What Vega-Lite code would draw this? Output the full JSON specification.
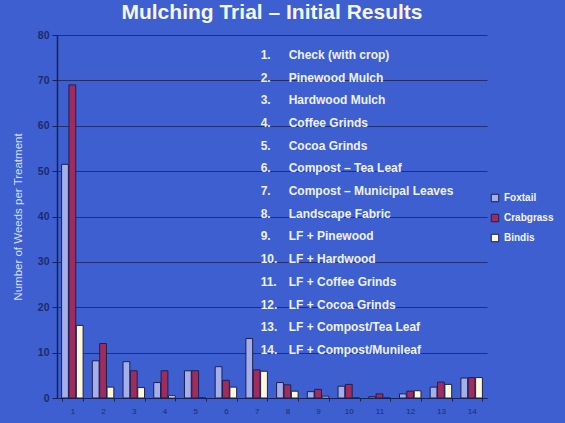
{
  "$schema": "https://vega.github.io/schema/vega-lite/v6.json",
  "autosize": "none",
  "width": 430,
  "height": 363,
  "padding": {"left": 57, "top": 35, "right": 78, "bottom": 25},
  "background": "#3d5fcf",
  "title": {
    "text": "Mulching Trial – Initial Results",
    "color": "#f4f6ff",
    "font": "Liberation Sans",
    "fontWeight": "bold",
    "fontSize": 21,
    "anchor": "middle",
    "offset": 7
  },
  "config": {
    "view": {"stroke": null},
    "font": "Liberation Sans"
  },
  "datasets": {
    "weeds": [
      {"treatment": "1", "weed": "Foxtail", "count": 51.5},
      {"treatment": "1", "weed": "Crabgrass", "count": 69},
      {"treatment": "1", "weed": "Bindis", "count": 16},
      {"treatment": "2", "weed": "Foxtail", "count": 8.2},
      {"treatment": "2", "weed": "Crabgrass", "count": 12},
      {"treatment": "2", "weed": "Bindis", "count": 2.4},
      {"treatment": "3", "weed": "Foxtail", "count": 8},
      {"treatment": "3", "weed": "Crabgrass", "count": 6},
      {"treatment": "3", "weed": "Bindis", "count": 2.3},
      {"treatment": "4", "weed": "Foxtail", "count": 3.4},
      {"treatment": "4", "weed": "Crabgrass", "count": 6},
      {"treatment": "4", "weed": "Bindis", "count": 0.5},
      {"treatment": "5", "weed": "Foxtail", "count": 6},
      {"treatment": "5", "weed": "Crabgrass", "count": 6},
      {"treatment": "5", "weed": "Bindis", "count": 0},
      {"treatment": "6", "weed": "Foxtail", "count": 6.9},
      {"treatment": "6", "weed": "Crabgrass", "count": 3.9},
      {"treatment": "6", "weed": "Bindis", "count": 2.4},
      {"treatment": "7", "weed": "Foxtail", "count": 13.1},
      {"treatment": "7", "weed": "Crabgrass", "count": 6.2},
      {"treatment": "7", "weed": "Bindis", "count": 5.9},
      {"treatment": "8", "weed": "Foxtail", "count": 3.4},
      {"treatment": "8", "weed": "Crabgrass", "count": 2.9},
      {"treatment": "8", "weed": "Bindis", "count": 1.5},
      {"treatment": "9", "weed": "Foxtail", "count": 1.4},
      {"treatment": "9", "weed": "Crabgrass", "count": 1.9},
      {"treatment": "9", "weed": "Bindis", "count": 0.4},
      {"treatment": "10", "weed": "Foxtail", "count": 2.6},
      {"treatment": "10", "weed": "Crabgrass", "count": 3},
      {"treatment": "10", "weed": "Bindis", "count": 0},
      {"treatment": "11", "weed": "Foxtail", "count": 0.3},
      {"treatment": "11", "weed": "Crabgrass", "count": 0.9},
      {"treatment": "11", "weed": "Bindis", "count": 0},
      {"treatment": "12", "weed": "Foxtail", "count": 0.9},
      {"treatment": "12", "weed": "Crabgrass", "count": 1.5},
      {"treatment": "12", "weed": "Bindis", "count": 1.6},
      {"treatment": "13", "weed": "Foxtail", "count": 2.4},
      {"treatment": "13", "weed": "Crabgrass", "count": 3.5},
      {"treatment": "13", "weed": "Bindis", "count": 3},
      {"treatment": "14", "weed": "Foxtail", "count": 4.4},
      {"treatment": "14", "weed": "Crabgrass", "count": 4.5},
      {"treatment": "14", "weed": "Bindis", "count": 4.5}
    ],
    "key": [
      {"num": "1.", "name": "Check (with crop)"},
      {"num": "2.", "name": "Pinewood Mulch"},
      {"num": "3.", "name": "Hardwood Mulch"},
      {"num": "4.", "name": "Coffee Grinds"},
      {"num": "5.", "name": "Cocoa Grinds"},
      {"num": "6.", "name": "Compost – Tea Leaf"},
      {"num": "7.", "name": "Compost – Municipal Leaves"},
      {"num": "8.", "name": "Landscape Fabric"},
      {"num": "9.", "name": "LF + Pinewood"},
      {"num": "10.", "name": "LF + Hardwood"},
      {"num": "11.", "name": "LF + Coffee Grinds"},
      {"num": "12.", "name": "LF + Cocoa Grinds"},
      {"num": "13.", "name": "LF + Compost/Tea Leaf"},
      {"num": "14.", "name": "LF + Compost/Munileaf"}
    ]
  },
  "layer": [
    {
      "data": {"name": "weeds"},
      "mark": {"type": "bar", "stroke": "#1b2150", "strokeWidth": 1},
      "encoding": {
        "x": {
          "field": "treatment",
          "type": "ordinal",
          "sort": ["1","2","3","4","5","6","7","8","9","10","11","12","13","14"],
          "scale": {"paddingInner": 0.3, "paddingOuter": 0.15},
          "axis": {
            "title": null,
            "labelAngle": 0,
            "labelColor": "#1d2a6e",
            "labelFontSize": 8,
            "labelPadding": 6,
            "domainColor": "#1b2150",
            "tickColor": "#1b2150",
            "tickBand": "extent",
            "tickSize": 3,
            "grid": false
          }
        },
        "xOffset": {
          "field": "weed",
          "type": "nominal",
          "sort": ["Foxtail", "Crabgrass", "Bindis"],
          "scale": {"paddingInner": 0.08}
        },
        "y": {
          "field": "count",
          "type": "quantitative",
          "scale": {"domain": [0, 80]},
          "axis": {
            "title": "Number of Weeds per Treatment",
            "titleColor": "#d6defc",
            "titleFontSize": 11.5,
            "titleFontWeight": "normal",
            "titlePadding": 14,
            "values": [0,10,20,30,40,50,60,70,80],
            "labelColor": "#1d2a6e",
            "labelFontSize": 10.5,
            "labelFontWeight": "bold",
            "labelPadding": 3,
            "domainColor": "#1b2150",
            "domainWidth": 1.5,
            "tickColor": "#1b2150",
            "tickSize": 5,
            "gridColor": "#1e2a66",
            "gridOpacity": 0.9,
            "gridWidth": 1
          }
        },
        "color": {
          "field": "weed",
          "type": "nominal",
          "sort": ["Foxtail", "Crabgrass", "Bindis"],
          "scale": {
            "domain": ["Foxtail", "Crabgrass", "Bindis"],
            "range": ["#a3aeea", "#a02c5e", "#fdf8da"]
          },
          "legend": {
            "title": null,
            "orient": "none",
            "legendX": 433,
            "legendY": 158,
            "symbolType": "square",
            "symbolSize": 55,
            "symbolStrokeColor": "#1b2150",
            "symbolStrokeWidth": 1,
            "labelColor": "#f2f4ff",
            "labelFont": "Liberation Sans",
            "labelFontWeight": "bold",
            "labelFontSize": 10,
            "rowPadding": 8
          }
        }
      }
    },
    {
      "data": {"name": "key"},
      "mark": {"type": "text", "align": "left", "baseline": "middle", "color": "#eef1ff", "fontWeight": "bold", "fontSize": 12, "dx": 4},
      "encoding": {
        "x": {"datum": "7"},
        "y": {
          "field": "num",
          "type": "ordinal",
          "sort": null,
          "bandPosition": 0.5,
          "scale": {"type": "band", "paddingInner": 0, "paddingOuter": 1, "align": 0.19},
          "axis": null
        },
        "text": {"field": "num"}
      }
    },
    {
      "data": {"name": "key"},
      "mark": {"type": "text", "align": "left", "baseline": "middle", "color": "#eef1ff", "fontWeight": "bold", "fontSize": 12, "dx": 32},
      "encoding": {
        "x": {"datum": "7"},
        "y": {
          "field": "num",
          "type": "ordinal",
          "sort": null,
          "bandPosition": 0.5,
          "scale": {"type": "band", "paddingInner": 0, "paddingOuter": 1, "align": 0.19},
          "axis": null
        },
        "text": {"field": "name"}
      }
    }
  ],
  "resolve": {"scale": {"y": "independent"}}
}
